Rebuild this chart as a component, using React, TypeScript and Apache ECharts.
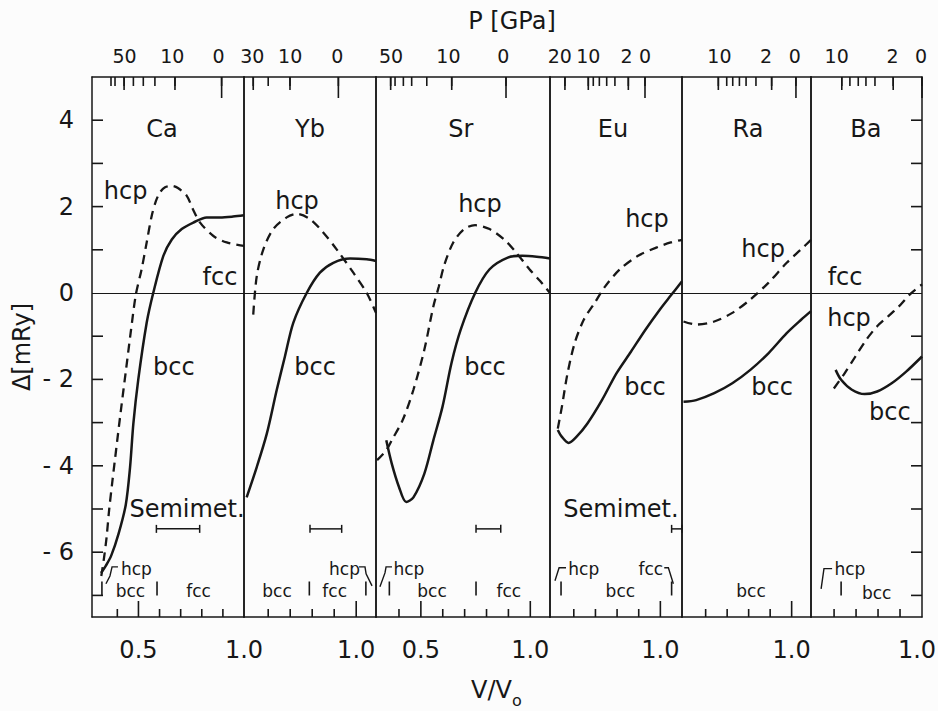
import React, { useEffect, useRef } from 'react';
import * as echarts from 'echarts';

// ---------------- data (V/V0, Δ in mRy) ----------------
const panelNames = ['Ca', 'Yb', 'Sr', 'Eu', 'Ra', 'Ba'];
const vMin = [0.28, 0.49, 0.295, 0.49, 0.49, 0.495];
const vMax = [1.0, 1.09, 1.09, 1.1, 1.09, 1.0];
const deltaMin = -7.5;
const deltaMax = 5;

const caBcc = [[0.323, -6.48], [0.346, -6.31], [0.371, -6.08], [0.406, -5.57], [0.44, -4.9], [0.46, -4.05], [0.476, -3.02], [0.499, -2.01], [0.539, -0.69], [0.57, 0.0], [0.618, 0.86], [0.658, 1.24], [0.705, 1.48], [0.76, 1.63], [0.823, 1.75], [0.886, 1.75], [0.948, 1.77], [1.0, 1.8]];
const caHcp = [[0.324, -6.55], [0.337, -6.13], [0.349, -5.66], [0.361, -5.03], [0.377, -4.34], [0.394, -3.64], [0.417, -2.71], [0.441, -1.78], [0.465, -0.85], [0.488, -0.03], [0.515, 0.55], [0.539, 1.17], [0.563, 1.79], [0.583, 2.13], [0.602, 2.33], [0.626, 2.45], [0.658, 2.48], [0.687, 2.43], [0.729, 2.25], [0.758, 1.94], [0.792, 1.63], [0.855, 1.32], [0.918, 1.17], [1.0, 1.09]];
const ybBcc = [[0.502, -4.73], [0.548, -4.03], [0.594, -3.25], [0.639, -2.24], [0.676, -1.47], [0.714, -0.69], [0.775, 0.0], [0.835, 0.47], [0.896, 0.7], [0.972, 0.8], [1.048, 0.78], [1.09, 0.74]];
const ybHcp = [[0.532, -0.5], [0.548, 0.39], [0.578, 1.01], [0.623, 1.48], [0.684, 1.75], [0.73, 1.83], [0.79, 1.71], [0.85, 1.4], [0.911, 1.01], [0.987, 0.47], [1.048, 0.0], [1.09, -0.46]];
const srBcc = [[0.342, -3.41], [0.367, -3.95], [0.4, -4.49], [0.433, -4.84], [0.466, -4.73], [0.516, -4.18], [0.557, -3.41], [0.599, -2.63], [0.64, -1.62], [0.682, -0.85], [0.748, 0.0], [0.814, 0.55], [0.897, 0.82], [0.963, 0.86], [1.029, 0.84], [1.09, 0.8]];
const srHcp = [[0.3, -3.87], [0.342, -3.64], [0.367, -3.41], [0.417, -2.94], [0.466, -2.24], [0.516, -1.31], [0.557, -0.31], [0.582, 0.15], [0.607, 0.65], [0.648, 1.17], [0.698, 1.48], [0.748, 1.57], [0.814, 1.48], [0.88, 1.24], [0.93, 0.97], [0.996, 0.55], [1.046, 0.27], [1.09, 0.0]];
const euBcc = [[0.526, -3.17], [0.545, -3.33], [0.576, -3.47], [0.612, -3.33], [0.663, -3.02], [0.73, -2.48], [0.797, -1.86], [0.864, -1.36], [0.931, -0.85], [0.998, -0.38], [1.048, -0.06], [1.1, 0.27]];
const euHcp = [[0.526, -3.14], [0.545, -2.63], [0.571, -1.86], [0.604, -1.16], [0.646, -0.62], [0.696, -0.23], [0.746, 0.16], [0.813, 0.55], [0.897, 0.86], [0.981, 1.05], [1.048, 1.17], [1.1, 1.23]];
const raBcc = [[0.497, -2.52], [0.556, -2.48], [0.64, -2.32], [0.724, -2.09], [0.808, -1.78], [0.893, -1.39], [0.977, -0.93], [1.044, -0.62], [1.09, -0.42]];
const raHcp = [[0.497, -0.66], [0.556, -0.73], [0.64, -0.66], [0.724, -0.46], [0.808, -0.15], [0.893, 0.24], [0.977, 0.7], [1.044, 1.01], [1.09, 1.23]];
const baBcc = [[0.607, -1.78], [0.632, -2.01], [0.681, -2.24], [0.739, -2.34], [0.796, -2.28], [0.862, -2.09], [0.928, -1.82], [1.0, -1.47]];
const baHcp = [[0.599, -2.21], [0.648, -1.86], [0.697, -1.47], [0.747, -1.08], [0.796, -0.77], [0.846, -0.54], [0.895, -0.31], [0.945, -0.03], [1.0, 0.2]];

const bccSeries = [caBcc, ybBcc, srBcc, euBcc, raBcc, baBcc];
const hcpSeries = [caHcp, ybHcp, srHcp, euHcp, raHcp, baHcp];

// bottom V/V0 ticks
const vMinorTicks = [[0.4, 0.6, 0.7, 0.8, 0.9], [0.6, 0.7, 0.8, 0.9], [0.4, 0.6, 0.7, 0.8, 0.9], [0.6, 0.7, 0.8, 0.9], [0.6, 0.7, 0.8, 0.9], [0.6, 0.7, 0.8, 0.9]];
const vMajorTicks = [[0.5], [1.0], [0.5, 1.0], [1.0], [1.0], []];
const vTickLabels = [[0.5, 1.0], [1.0], [0.5, 1.0], [1.0], [1.0], [1.0]];

// top pressure ticks (position in V/V0) and labels [GPa]
const pTickV = [
  [0.37, 0.389, 0.432, 0.476, 0.523, 0.578, 0.673, 0.894],
  [0.532, 0.6, 0.699, 0.919],
  [0.362, 0.382, 0.42, 0.458, 0.527, 0.641, 0.889],
  [0.559, 0.667, 0.69, 0.718, 0.752, 0.79, 0.852, 0.929],
  [0.659, 0.698, 0.726, 0.757, 0.788, 0.834, 0.907, 1.02],
  [0.635, 0.672, 0.71, 0.745, 0.786, 0.869, 1.0],
];
const pMajorV = [[0.432, 0.673], [0.532, 0.699], [0.362, 0.641], [0.559, 0.667, 0.852], [0.659, 0.907], [0.635, 0.869]];
const pZeroV = [0.894, 0.919, 0.889, 0.929, 1.02, 1.0];
const pLabelV = [[0.434, 0.66, 0.88], [0.528, 0.7, 0.914], [0.364, 0.626, 0.877], [0.535, 0.667, 0.844, 0.929], [0.664, 0.881, 1.015], [0.612, 0.866, 0.996]];
const pLabelText = [['50', '10', '0'], ['30', '10', '0'], ['50', '10', '0'], ['20', '10', '2', '0'], ['10', '2', '0'], ['10', '2', '0']];

const deltaTicks = [-7, -6, -5, -4, -3, -2, -1, 1, 2, 3, 4];
const deltaLabels = [-6, -4, -2, 0, 2, 4];

// labels inside panels [text, V, Δ]
const bigLabels = [
  [['Ca', 0.612, 3.8], ['hcp', 0.439, 2.36], ['fcc', 0.886, 0.36], ['bcc', 0.668, -1.71], ['Semimet.', 0.73, -4.99]],
  [['Yb', 0.79, 3.8], ['hcp', 0.731, 2.13], ['bcc', 0.813, -1.71]],
  [['Sr', 0.683, 3.8], ['hcp', 0.77, 2.06], ['bcc', 0.793, -1.71]],
  [['Eu', 0.781, 3.8], ['hcp', 0.938, 1.71], ['bcc', 0.929, -2.17], ['Semimet.', 0.818, -4.99]],
  [['Ra', 0.797, 3.8], ['hcp', 0.867, 1.01], ['bcc', 0.909, -2.17]],
  [['Ba', 0.745, 3.8], ['fcc', 0.65, 0.36], ['hcp', 0.668, -0.57], ['bcc', 0.854, -2.76]],
];
const phaseLabels = [
  [['hcp', 0.49, -6.38], ['bcc', 0.462, -6.9], ['fcc', 0.785, -6.9]],
  [['bcc', 0.64, -6.9], ['fcc', 0.902, -6.9], ['hcp', 0.947, -6.38]],
  [['hcp', 0.445, -6.38], ['bcc', 0.551, -6.9], ['fcc', 0.902, -6.9]],
  [['hcp', 0.646, -6.38], ['bcc', 0.815, -6.9], ['fcc', 0.956, -6.38]],
  [['bcc', 0.811, -6.9]],
  [['hcp', 0.672, -6.38], ['bcc', 0.794, -6.94]],
];
const phaseBars = [[0.327, 0.588], [0.787, 1.044], [0.356, 0.752], [0.541, 1.052], [], [0.632]];
const phaseBrackets = [
  [[[0.403, -6.34], [0.375, -6.34], [0.365, -6.55], [0.346, -6.73]]],
  [[[1.013, -6.34], [1.04, -6.34], [1.045, -6.5], [1.072, -6.78]]],
  [[[0.368, -6.34], [0.341, -6.34], [0.336, -6.48], [0.313, -6.8]]],
  [[[0.564, -6.36], [0.532, -6.36], [0.513, -6.66]], [[1.018, -6.36], [1.037, -6.36], [1.06, -6.73]]],
  [],
  [[[0.591, -6.38], [0.554, -6.38], [0.541, -6.85]]],
];
// semimetal ranges [V1, V2, Δ]
const semimetRanges = [[[0.585, 0.79, -5.46]], [[0.79, 0.934, -5.46]], [[0.752, 0.865, -5.46]], [[1.052, 1.1, -5.46]], [], []];
const PHASE_ROW = -6.84;

// ---------------- layout / style ----------------
const GRID_LEFT = [92, 244, 376, 550, 682, 811];
const GRID_W = [152, 132, 174, 132, 129, 111];
const GRID_TOP = 77;
const GRID_H = 540;
const INK = '#171717';
const FONT = 'DejaVu Sans';

function tickLen(cls: string): number {
  switch (cls) {
    case 'bMinor': return 8;
    case 'bMajor': return 16;
    case 'tMinor': return 9;
    case 'tMajor': return 13;
    case 'tZero': return 21;
    default: return 11;
  }
}

function buildOption() {
  const grids: any[] = [];
  const xAxes: any[] = [];
  const yAxes: any[] = [];
  const series: any[] = [];
  const lineOn = { show: true, onZero: false, lineStyle: { color: INK, width: 1.5 } };

  panelNames.forEach((name, i) => {
    grids.push({ left: GRID_LEFT[i], top: GRID_TOP, width: GRID_W[i], height: GRID_H, containLabel: false, outerBoundsMode: 'none' });
    const common = { type: 'value', gridIndex: i, min: vMin[i], max: vMax[i], splitLine: { show: false }, splitArea: { show: false }, axisTick: { show: false } };
    const xb = xAxes.length;
    xAxes.push({
      ...common, position: 'bottom', axisLine: lineOn,
      axisLabel: {
        show: true, customValues: vTickLabels[i], showMinLabel: true, showMaxLabel: true, hideOverlap: false,
        formatter: (v: number) => v.toFixed(1), fontSize: 24, fontFamily: FONT, color: INK, margin: 21,
        padding: i === 5 ? [0, 10, 0, 0] : 0,
      },
    });
    const labV = pLabelV[i];
    const labT = pLabelText[i];
    xAxes.push({
      ...common, position: 'top', axisLine: lineOn,
      axisLabel: {
        show: true, customValues: labV, showMinLabel: true, showMaxLabel: true, hideOverlap: false,
        formatter: (v: number) => {
          let best = 0;
          labV.forEach((x, k) => { if (Math.abs(x - v) < Math.abs(labV[best] - v)) best = k; });
          return labT[best];
        },
        fontSize: 19, fontFamily: FONT, color: INK, margin: 12,
      },
    });

    const yb = yAxes.length;
    const ycommon = { type: 'value', gridIndex: i, min: deltaMin, max: deltaMax, splitLine: { show: false }, axisTick: { show: false } };
    yAxes.push({
      ...ycommon, position: 'left', axisLine: lineOn,
      axisLabel: i === 0 ? {
        show: true, customValues: deltaLabels, showMinLabel: true, showMaxLabel: true, hideOverlap: false,
        formatter: (v: number) => (v < 0 ? '- ' + Math.abs(v) : String(v)), fontSize: 24, fontFamily: FONT, color: INK, margin: 18,
      } : { show: false },
      name: i === 0 ? 'Δ[mRy]' : '', nameLocation: 'middle', nameRotate: 90, nameGap: 58,
      nameTextStyle: { fontSize: 24, fontFamily: FONT, color: INK },
    });
    yAxes.push({ ...ycommon, position: 'right', axisLine: lineOn, axisLabel: { show: false } });

    // frame ticks, drawn through the axes' scales (anchored at interior points)
    const midV = (vMin[i] + vMax[i]) / 2;
    const ticks: any[] = [];
    vMinorTicks[i].forEach((v) => ticks.push({ side: 'b', tv: v, td: deltaMin, len: tickLen('bMinor'), v, d: 0 }));
    vMajorTicks[i].forEach((v) => ticks.push({ side: 'b', tv: v, td: deltaMin, len: tickLen('bMajor'), v, d: 0 }));
    pTickV[i].forEach((v) => ticks.push({ side: 't', tv: v, td: deltaMax, len: tickLen('tMinor'), v: midV, d: 0 }));
    pMajorV[i].forEach((v) => ticks.push({ side: 't', tv: v, td: deltaMax, len: tickLen('tMajor'), v: midV, d: 0 }));
    ticks.push({ side: 't', tv: pZeroV[i], td: deltaMax, len: tickLen('tZero'), v: midV, d: 0 });
    if (i === 0) deltaTicks.forEach((d) => ticks.push({ side: 'l', tv: vMin[i], td: d, len: tickLen('y'), v: midV, d }));
    if (i === 5) deltaTicks.forEach((d) => ticks.push({ side: 'r', tv: vMax[i], td: d, len: tickLen('y'), v: midV, d }));
    series.push({
      type: 'custom', name: name + ' ticks', xAxisIndex: xb, yAxisIndex: yb, clip: false, silent: true,
      data: ticks.map((t) => [t.v, t.d]),
      renderItem: (params: any, api: any) => {
        const t = ticks[params.dataIndex];
        const p = api.coord([t.tv, t.td]);
        let x2 = p[0];
        let y2 = p[1];
        if (t.side === 'b') y2 = p[1] - t.len;
        else if (t.side === 't') y2 = p[1] + t.len;
        else if (t.side === 'l') x2 = p[0] + t.len;
        else x2 = p[0] - t.len;
        return { type: 'line', shape: { x1: p[0], y1: p[1], x2, y2 }, style: { stroke: INK, lineWidth: 1.6 } };
      },
    });

    series.push({
      type: 'line', name: name + ' bcc', xAxisIndex: xb, yAxisIndex: yb, data: bccSeries[i],
      showSymbol: false, symbol: 'none', smooth: 0.3, silent: true,
      lineStyle: { color: INK, width: 2.5, type: 'solid' },
      markLine: { silent: true, symbol: ['none', 'none'], label: { show: false }, data: [{ yAxis: 0 }], lineStyle: { color: INK, width: 1.1, type: 'solid' } },
    });
    series.push({
      type: 'line', name: name + ' hcp', xAxisIndex: xb, yAxisIndex: yb, data: hcpSeries[i],
      showSymbol: false, symbol: 'none', smooth: 0.3, silent: true,
      lineStyle: { color: INK, width: 2.3, type: [9, 6] },
    });

    // annotations
    const anns: any[] = [];
    bigLabels[i].forEach((l: any) => anns.push({ kind: 'text', text: l[0], v: l[1], d: l[2], size: 24 }));
    phaseLabels[i].forEach((l: any) => anns.push({ kind: 'text', text: l[0], v: l[1], d: l[2], size: 17 }));
    phaseBars[i].forEach((v) => anns.push({ kind: 'bar', v, d: PHASE_ROW }));
    phaseBrackets[i].forEach((pts: any) => anns.push({ kind: 'poly', pts, v: pts[0][0], d: pts[0][1] }));
    semimetRanges[i].forEach((r: any) => anns.push({ kind: 'range', v1: r[0], v2: r[1], v: r[0], d: r[2] }));
    series.push({
      type: 'custom', name: name + ' notes', xAxisIndex: xb, yAxisIndex: yb, clip: false, silent: true,
      data: anns.map((a) => [a.v, a.d]),
      renderItem: (params: any, api: any) => {
        const a = anns[params.dataIndex];
        if (a.kind === 'text') {
          const p = api.coord([a.v, a.d]);
          return { type: 'text', x: p[0], y: p[1], style: { text: a.text, fill: INK, fontSize: a.size, fontFamily: FONT, align: 'center', verticalAlign: 'middle' } };
        }
        if (a.kind === 'bar') {
          const p = api.coord([a.v, a.d]);
          return { type: 'line', shape: { x1: p[0], y1: p[1] - 7, x2: p[0], y2: p[1] + 7 }, style: { stroke: INK, lineWidth: 1.6 } };
        }
        if (a.kind === 'poly') {
          return { type: 'polyline', shape: { points: a.pts.map((q: number[]) => api.coord(q)) }, style: { stroke: INK, lineWidth: 1.4, fill: 'none' } };
        }
        const p1 = api.coord([a.v1, a.d]);
        const p2 = api.coord([a.v2, a.d]);
        return {
          type: 'group', children: [
            { type: 'line', shape: { x1: p1[0], y1: p1[1], x2: p2[0], y2: p2[1] }, style: { stroke: INK, lineWidth: 1.5 } },
            { type: 'line', shape: { x1: p1[0], y1: p1[1] - 4, x2: p1[0], y2: p1[1] + 4 }, style: { stroke: INK, lineWidth: 1.5 } },
            { type: 'line', shape: { x1: p2[0], y1: p2[1] - 4, x2: p2[0], y2: p2[1] + 4 }, style: { stroke: INK, lineWidth: 1.5 } },
          ],
        };
      },
    });
  });

  return {
    animation: false,
    backgroundColor: '#fcfcfc',
    grid: grids,
    xAxis: xAxes,
    yAxis: yAxes,
    series,
    graphic: [
      { type: 'text', x: 512, y: 21, style: { text: 'P [GPa]', fontSize: 24, fontFamily: FONT, fill: INK, align: 'center', verticalAlign: 'middle' } },
      { type: 'text', x: 471, y: 690, style: { text: 'V/V', fontSize: 24, fontFamily: FONT, fill: INK, align: 'left', verticalAlign: 'middle' } },
      { type: 'text', x: 512, y: 700, style: { text: 'o', fontSize: 16, fontFamily: FONT, fill: INK, align: 'left', verticalAlign: 'middle' } },
    ],
  };
}

export default function App() {
  const ref = useRef<HTMLDivElement>(null);
  useEffect(() => {
    const chart = echarts.init(ref.current as HTMLDivElement, null, { renderer: 'svg' });
    chart.setOption(buildOption() as any);
    return () => chart.dispose();
  }, []);
  return <div ref={ref} style={{ position: 'fixed', left: 0, top: 0, width: 938, height: 711 }} />;
}
